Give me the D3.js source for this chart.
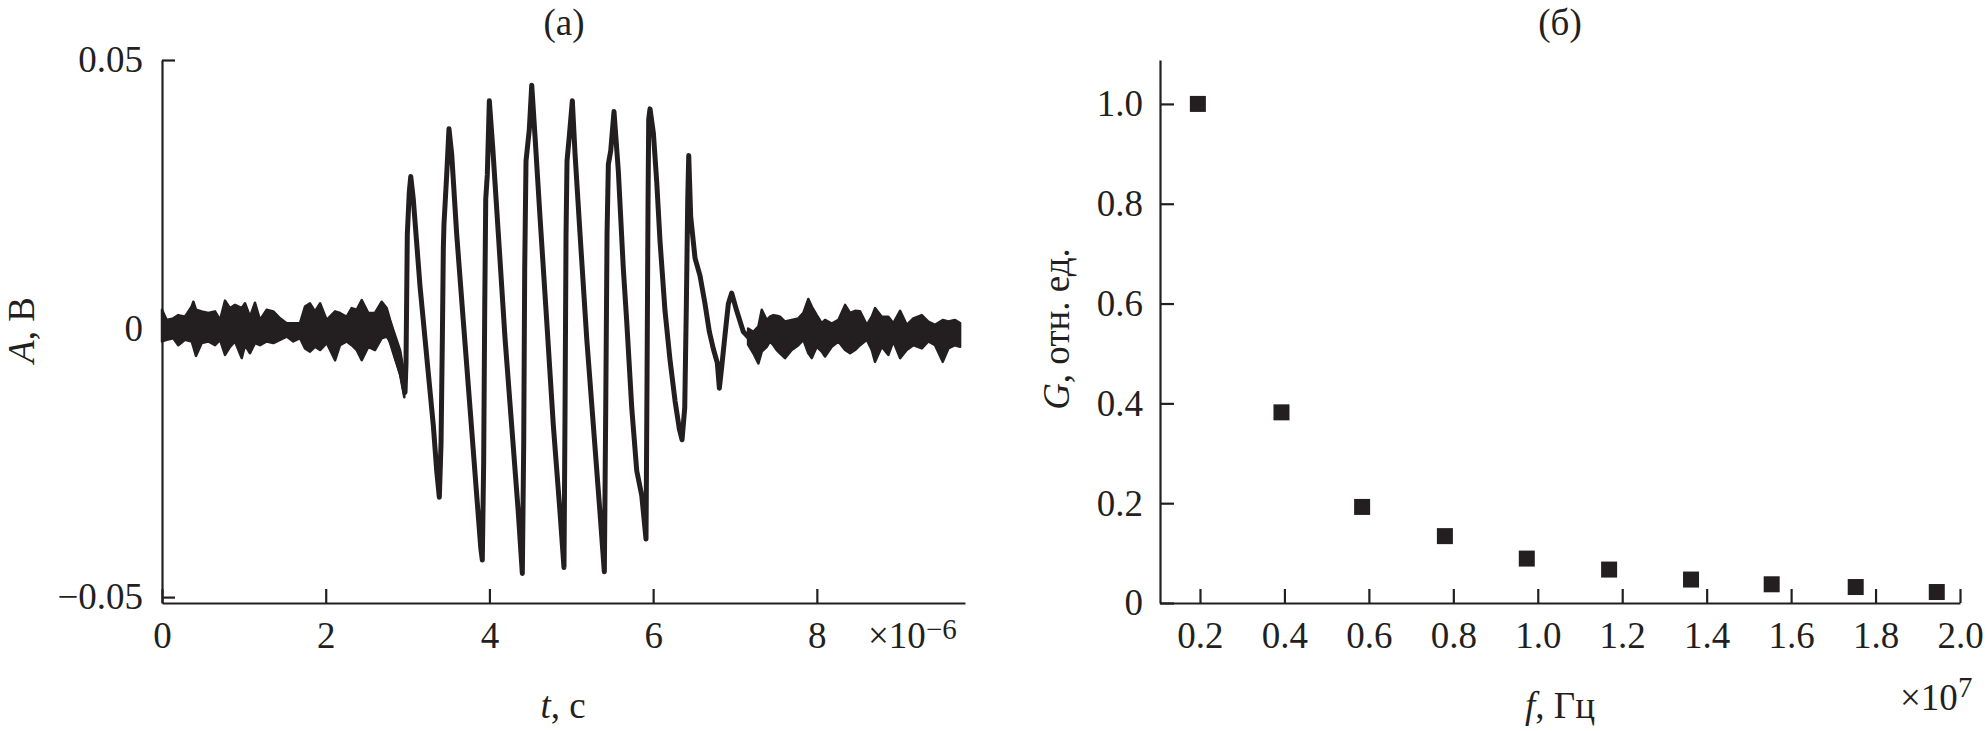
<!DOCTYPE html>
<html>
<head>
<meta charset="utf-8">
<script src="https://cdn.jsdelivr.net/npm/d3@7"></script>
<style>
  body { margin: 0; background: #ffffff; }
  svg text { font-family: "Liberation Serif", "Times New Roman", serif; fill: #231f20; }
  .axis path, .axis line { stroke: #231f20; stroke-width: 2.2; }
  .axis text { font-family: "Liberation Serif", "Times New Roman", serif; font-size: 37px; fill: #231f20; }
</style>
</head>
<body>
<svg id="chart" width="1987" height="731"></svg>
<script>
// (а) pulse: t in units of 1e-6 s, A in V
// noise band before the pulse (upper / lower edge of the trace)
const preT  = [0, 0.057, 0.138, 0.199, 0.281, 0.363, 0.383, 0.415, 0.485, 0.566, 0.648, 0.709, 0.770, 0.831, 0.892, 0.974, 1.014, 1.075, 1.136, 1.197, 1.279, 1.360, 1.442, 1.523, 1.604, 1.686, 1.747, 1.808, 1.869, 1.931, 2.012, 2.114, 2.175, 2.256, 2.317, 2.378, 2.440, 2.521, 2.602, 2.684, 2.745, 2.786, 2.826, 2.908, 2.960];
const preHi = [0.0035, 0.0016, 0.0019, 0.0025, 0.0022, 0.0041, 0.0050, 0.0035, 0.0032, 0.0029, 0.0032, 0.0016, 0.0052, 0.0038, 0.0044, 0.0038, 0.0047, 0.0022, 0.0048, 0.0016, 0.0035, 0.0032, 0.0019, 0.0010, 0.0010, 0.0010, 0.0041, 0.0047, 0.0032, 0.0047, 0.0016, 0.0032, 0.0029, 0.0022, 0.0038, 0.0035, 0.0053, 0.0029, 0.0029, 0.0050, 0.0038, 0.0016, -0.0003, -0.0040, -0.0085];
const preLo = [-0.0024, -0.0021, -0.0018, -0.0031, -0.0021, -0.0024, -0.0034, -0.0051, -0.0027, -0.0024, -0.0031, -0.0021, -0.0049, -0.0034, -0.0024, -0.0055, -0.0031, -0.0046, -0.0027, -0.0031, -0.0024, -0.0027, -0.0021, -0.0015, -0.0024, -0.0018, -0.0037, -0.0043, -0.0034, -0.0040, -0.0027, -0.0059, -0.0031, -0.0024, -0.0031, -0.0040, -0.0059, -0.0034, -0.0040, -0.0018, -0.0015, -0.0024, -0.0043, -0.0085, -0.0128];

// the pulse itself
const sigT = [2.541, 2.684, 2.786, 2.867, 2.929, 2.969, 2.981, 2.997, 3.021, 3.039,
  3.070, 3.152, 3.254, 3.315, 3.356, 3.388, 3.409, 3.425, 3.437, 3.445,
  3.478, 3.506, 3.539, 3.600, 3.681, 3.763, 3.845, 3.894, 3.913, 3.930,
  3.943, 3.955, 3.974, 3.999, 4.040, 4.109, 4.191, 4.272, 4.353, 4.402,
  4.419, 4.431, 4.447, 4.487, 4.517, 4.557, 4.618, 4.700, 4.781, 4.863,
  4.911, 4.924, 4.936, 4.948, 4.976, 5.013, 5.046, 5.107, 5.189, 5.270,
  5.351, 5.404, 5.421, 5.437, 5.453, 5.482, 5.522, 5.575, 5.636, 5.677,
  5.739, 5.800, 5.861, 5.913, 5.926, 5.938, 5.946, 5.962, 6.003, 6.044,
  6.084, 6.145, 6.206, 6.268, 6.320, 6.353, 6.386, 6.406, 6.423, 6.435,
  6.459, 6.512, 6.573, 6.634, 6.687, 6.736, 6.784, 6.809, 6.838, 6.878,
  6.919, 6.960, 7.021, 7.102, 7.184, 7.282];
const sigA = [-0.0006, 0.0020, -0.0019, -0.0058, -0.0087, -0.0119, -0.0064, 0.0176, 0.0254, 0.0283,
  0.0241, 0.0079, -0.0084, -0.0181, -0.0265, -0.0314, -0.0213, -0.0019, 0.0150, 0.0195,
  0.0286, 0.0372, 0.0325, 0.0176, 0.0014, -0.0148, -0.0311, -0.0408, -0.0431, -0.0246,
  0.0046, 0.0241, 0.0286, 0.0424, 0.0338, 0.0176, -0.0019, -0.0181, -0.0343, -0.0456,
  -0.0213, 0.0111, 0.0312, 0.0370, 0.0453, 0.0358, 0.0208, 0.0014, -0.0181, -0.0343,
  -0.0445, -0.0148, 0.0176, 0.0312, 0.0358, 0.0424, 0.0325, 0.0176, -0.0019, -0.0181,
  -0.0343, -0.0453, -0.0148, 0.0176, 0.0306, 0.0331, 0.0404, 0.0293, 0.0111, 0.0014,
  -0.0148, -0.0265, -0.0311, -0.0392, -0.0084, 0.0241, 0.0390, 0.0409, 0.0364, 0.0273,
  0.0163, 0.0033, -0.0058, -0.0135, -0.0187, -0.0207, -0.0148, 0.0046, 0.0241, 0.0322,
  0.0208, 0.0131, 0.0098, 0.0046, -0.0006, -0.0038, -0.0064, -0.0111, -0.0071, -0.0012,
  0.0046, 0.0066, 0.0033, -0.0006, -0.0019, -0.0031];

// noise band after the pulse
const postT  = [7.160, 7.224, 7.286, 7.327, 7.388, 7.428, 7.469, 7.510, 7.550, 7.611, 7.693, 7.774, 7.835, 7.896, 7.938, 7.999, 8.060, 8.100, 8.182, 8.263, 8.345, 8.406, 8.467, 8.528, 8.610, 8.671, 8.711, 8.793, 8.874, 8.935, 9.017, 9.098, 9.179, 9.282, 9.362, 9.444, 9.538, 9.607, 9.688, 9.750];
const postHi = [0.0000, -0.0006, 0.0004, 0.0035, 0.0016, 0.0022, 0.0025, 0.0024, 0.0022, 0.0013, 0.0016, 0.0019, 0.0029, 0.0055, 0.0041, 0.0025, 0.0010, 0.0016, 0.0009, 0.0016, 0.0044, 0.0029, 0.0033, 0.0032, 0.0007, 0.0022, 0.0038, 0.0022, 0.0022, 0.0010, 0.0033, 0.0007, 0.0019, 0.0025, 0.0013, 0.0007, 0.0016, 0.0013, 0.0016, 0.0010];
const postLo = [-0.0030, -0.0046, -0.0065, -0.0043, -0.0034, -0.0024, -0.0031, -0.0040, -0.0046, -0.0055, -0.0040, -0.0031, -0.0021, -0.0046, -0.0055, -0.0034, -0.0043, -0.0052, -0.0034, -0.0024, -0.0040, -0.0046, -0.0040, -0.0031, -0.0021, -0.0040, -0.0062, -0.0034, -0.0049, -0.0024, -0.0055, -0.0040, -0.0031, -0.0037, -0.0024, -0.0031, -0.0062, -0.0037, -0.0031, -0.0034];

const tTicks = [0, 2, 4, 6, 8];
const aTicks = [-0.05, 0, 0.05];

// (б) G versus f, f in units of 1e7 Hz
const freq = [0.195, 0.393, 0.584, 0.780, 0.974, 1.169, 1.363, 1.554, 1.753, 1.945];
const gain = [1.0, 0.382, 0.1925, 0.134, 0.089, 0.067, 0.047, 0.0375, 0.032, 0.022];

const fTicks = [0.2, 0.4, 0.6, 0.8, 1.0, 1.2, 1.4, 1.6, 1.8, 2.0];
const gTicks = [0, 0.2, 0.4, 0.6, 0.8, 1.0];

const ink = '#231f20';
const svg = d3.select('#chart');

// ---------- left panel ----------
const xA = d3.scaleLinear().domain([0, 9.81]).range([162, 965]);
const yA = d3.scaleLinear().domain([-0.0511, 0.05]).range([603, 60]);

const pre = preT.map((t, i) => ({t: t, hi: preHi[i], lo: preLo[i]}));
const post = postT.map((t, i) => ({t: t, hi: postHi[i], lo: postLo[i]}));
const sig = sigT.map((t, i) => ({t: t, a: sigA[i]}));

const band = d3.area()
  .x(d => xA(d.t))
  .y0(d => yA(d.lo))
  .y1(d => yA(d.hi));

[pre, post].forEach(b => {
  svg.append('path')
    .datum(b)
    .attr('d', band)
    .attr('fill', ink)
    .attr('stroke', ink)
    .attr('stroke-width', 2.5)
    .attr('stroke-linejoin', 'round');
});

svg.append('path')
  .datum(sig)
  .attr('d', d3.line().x(d => xA(d.t)).y(d => yA(d.a)))
  .attr('fill', 'none')
  .attr('stroke', ink)
  .attr('stroke-width', 5)
  .attr('stroke-linejoin', 'round')
  .attr('stroke-linecap', 'round');

svg.append('g')
  .attr('class', 'axis')
  .attr('transform', 'translate(0,603)')
  .call(d3.axisBottom(xA).tickValues(tTicks).tickSizeInner(-14).tickSizeOuter(0)
    .tickPadding(19).tickFormat(d3.format('d')));

svg.append('g')
  .attr('class', 'axis')
  .attr('transform', 'translate(162,0)')
  .call(d3.axisLeft(yA).tickValues(aTicks).tickSizeInner(-13).tickSizeOuter(0)
    .tickPadding(19).tickFormat(d => d === 0 ? '0' : d3.format('.2f')(d)));

// ---------- right panel ----------
const xF = d3.scaleLinear().domain([0.1053, 2.0]).range([1160, 1960]);
const yG = d3.scaleLinear().domain([0, 1.088]).range([603, 60]);

svg.append('g')
  .attr('class', 'axis')
  .attr('transform', 'translate(0,603)')
  .call(d3.axisBottom(xF).tickValues(fTicks).tickSizeInner(-14).tickSizeOuter(0)
    .tickPadding(19).tickFormat(d3.format('.1f')));

svg.append('g')
  .attr('class', 'axis')
  .attr('transform', 'translate(1160,0)')
  .call(d3.axisLeft(yG).tickValues(gTicks).tickSizeInner(-14).tickSizeOuter(0)
    .tickPadding(17).tickFormat(d => d === 0 ? '0' : d3.format('.1f')(d)));

const sq = 16;
svg.selectAll('rect.pt')
  .data(freq)
  .enter()
  .append('rect')
  .attr('class', 'pt')
  .attr('x', d => xF(d) - sq / 2)
  .attr('y', (d, i) => yG(gain[i]) - sq / 2)
  .attr('width', sq)
  .attr('height', sq)
  .attr('fill', ink);

// ---------- titles and labels ----------
const fs = 37;

svg.append('text').attr('x', 564).attr('y', 35).attr('text-anchor', 'middle')
  .style('font-size', fs + 'px').text('(а)');
svg.append('text').attr('x', 1560).attr('y', 35).attr('text-anchor', 'middle')
  .style('font-size', fs + 'px').text('(б)');

let tl = svg.append('text').attr('x', 563).attr('y', 718).attr('text-anchor', 'middle')
  .style('font-size', fs + 'px');
tl.append('tspan').style('font-style', 'italic').text('t');
tl.append('tspan').text(', с');

let fl = svg.append('text').attr('x', 1560).attr('y', 718).attr('text-anchor', 'middle')
  .style('font-size', fs + 'px');
fl.append('tspan').style('font-style', 'italic').text('f');
fl.append('tspan').text(', Гц');

let al = svg.append('text').attr('transform', 'translate(34,330) rotate(-90)')
  .attr('text-anchor', 'middle').style('font-size', fs + 'px');
al.append('tspan').style('font-style', 'italic').text('A');
al.append('tspan').text(', В');

let gl = svg.append('text').attr('transform', 'translate(1069,329) rotate(-90)')
  .attr('text-anchor', 'middle').style('font-size', fs + 'px');
gl.append('tspan').style('font-style', 'italic').text('G');
gl.append('tspan').text(', отн. ед.');

// multipliers
let m1 = svg.append('text').attr('x', 868).attr('y', 648).style('font-size', fs + 'px');
m1.append('tspan').text('×10');
m1.append('tspan').attr('dy', -9).style('font-size', '29px').text('−6');

let m2 = svg.append('text').attr('x', 1900).attr('y', 710).style('font-size', fs + 'px');
m2.append('tspan').text('×10');
m2.append('tspan').attr('dy', -13).style('font-size', '29px').text('7');
</script>
</body>
</html>
